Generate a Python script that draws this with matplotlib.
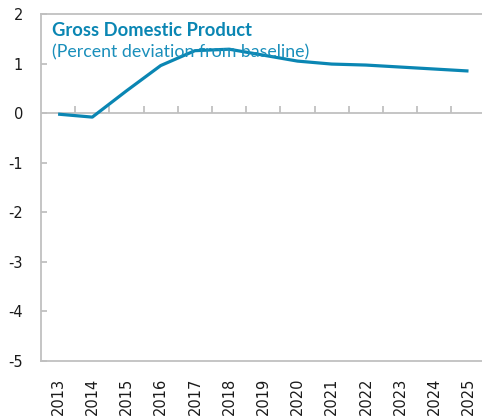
import matplotlib
matplotlib.use('Agg')
import matplotlib.pyplot as plt
import numpy as np

# Данные графика
years = ['2013', '2014', '2015', '2016', '2017', '2018', '2019',
         '2020', '2021', '2022', '2023', '2024', '2025']
gdp = [-0.02, -0.08, 0.45, 0.96, 1.26, 1.29, 1.17,
       1.05, 0.99, 0.97, 0.93, 0.89, 0.85]
yticks = [-5, -4, -3, -2, -1, 0, 1, 2]

lineColor = '#0a86b3'
gridGray = '#c0c0c0'
textColor = '#1a1a1a'

fig = plt.figure(figsize=(4.82, 4.2), dpi=100)
W, H = 482.0, 420.0
left, right, top, bottom = 41, 482, 14, 361
ax = fig.add_axes([left / W, 1 - bottom / H, (right - left) / W, (bottom - top) / H])

x = np.arange(len(years))
ax.plot(x, gdp, color=lineColor, lw=2.3, solid_capstyle='butt', zorder=3)

# ось на нуле с рисками между категориями
ax.axhline(0, color=gridGray, lw=1.3, zorder=1)
ax.vlines(x[:-1] + 0.5, 0, 0.14, color=gridGray, lw=1.3, zorder=1)

ax.set_ylim(-5, 2)
ax.set_xlim(-0.5, len(years) - 0.5 - 3.6 / 34.2)
ax.set_yticks(yticks)
ax.set_yticklabels([str(v) for v in yticks])
ax.set_xticks(x)
ax.set_xticklabels(years, rotation=90)

for s in ['left', 'top', 'bottom']:
    ax.spines[s].set_color(gridGray)
    ax.spines[s].set_linewidth(1.3)
ax.spines['right'].set_visible(False)

ax.tick_params(axis='y', direction='in', length=4, width=1.3, color=gridGray,
               pad=13, labelsize=10.5, labelcolor=textColor)
ax.tick_params(axis='x', length=0, pad=12, labelsize=10.5, labelcolor=textColor)

fig.text(52 / W, 1 - 36 / H, 'Gross Domestic Product', color=lineColor,
         fontsize=13.2, fontweight='bold', family='Lato', va='baseline')
fig.text(52 / W, 1 - 57 / H, '(Percent deviation from baseline)', color='#1a8fbb',
         fontsize=12.8, family='Lato', va='baseline')

fig.savefig('out.png', dpi=100)
